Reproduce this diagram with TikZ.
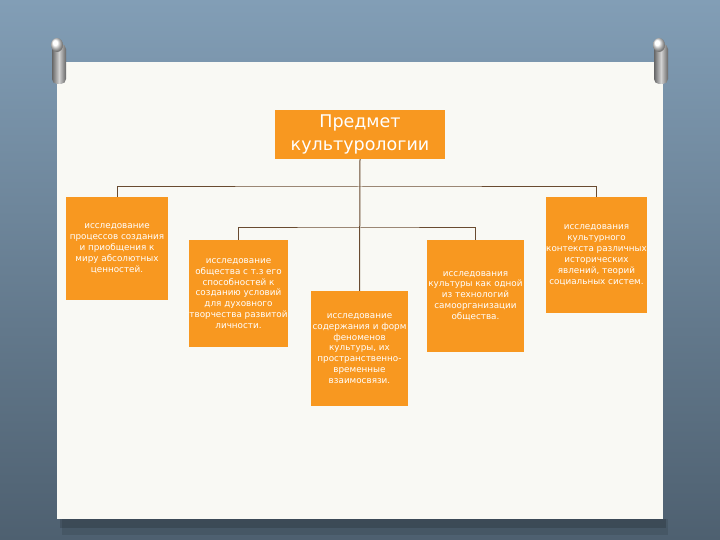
\documentclass[tikz,border=0pt]{standalone}
\usepackage{fontspec}
\setmainfont{DejaVu Sans}
\usetikzlibrary{positioning}

\definecolor{wallTop}{RGB}{130,158,182}
\definecolor{wallBot}{RGB}{78,96,112}
\definecolor{paper}{RGB}{249,249,244}
\definecolor{boxOrange}{RGB}{248,152,32}
\definecolor{linkBrown}{RGB}{105,75,48}

\tikzset{
  card/.style={fill=boxOrange, text=white, align=center, inner sep=0pt,
    font=\fontsize{8.8}{10.9}\selectfont},
  link/.style={draw=linkBrown, line width=1pt},
  pinbody/.style={left color=gray!80!black, right color=gray!80!black, middle color=gray!35}
}

\begin{document}
\begin{tikzpicture}[x=1pt,y=-1pt]
\useasboundingbox (0,0) rectangle (720,540);
% wall and paper
\shade[top color=wallTop, bottom color=wallBot] (0,0) rectangle (720,540);
\fill[black, opacity=0.10] (62,519) rectangle (668,535);
\fill[black, opacity=0.15] (60,519) rectangle (666,528);
\fill[paper] (57,62) rectangle (663,519);
% pins
\shade[pinbody, rounded corners=5pt] (52,44) rectangle (66,84);
\shade[ball color=white] (57,45) ellipse [x radius=6, y radius=7];
\shade[pinbody, rounded corners=5pt] (654,44) rectangle (668,84);
\shade[ball color=white] (659,45) ellipse [x radius=6, y radius=7];
% boxes
\node[card, minimum width=170pt, minimum height=49pt, font=\fontsize{17.5}{22.5}\selectfont]
  (top) at (360,134.5) {Предмет\\культурологии};
\node[card, minimum width=102pt, minimum height=103pt] (box1) at (117,248.5)
  {исследование\\процессов создания\\и приобщения к\\миру абсолютных\\ценностей.};
\node[card, minimum width=97pt, minimum height=107pt] (box2) at (238.5,293.5)
  {исследование\\общества с т.з его\\способностей к\\созданию условий\\для духовного\\творчества развитой\\личности.};
\node[card, minimum width=97pt, minimum height=115pt] (box3) at (359.5,348.5)
  {исследование\\содержания и форм\\феноменов\\культуры, их\\пространственно-\\временные\\взаимосвязи.};
\node[card, minimum width=97pt, minimum height=112pt] (box4) at (475.5,296)
  {исследования\\культуры как одной\\из технологий\\самоорганизации\\общества.};
\node[card, minimum width=101pt, minimum height=116pt] (box5) at (596.5,255)
  {исследования\\культурного\\контекста различных\\исторических\\явлений, теорий\\социальных систем.};
% connectors
\coordinate (bus1) at (360,187);
\coordinate (bus2) at (360,228);
\draw[link] (top.south) -- (box3.north);
\draw[link] (box1.north) |- (bus1) -| (box5.north);
\draw[link] (box2.north) |- (bus2) -| (box4.north);
\end{tikzpicture}
\end{document}
